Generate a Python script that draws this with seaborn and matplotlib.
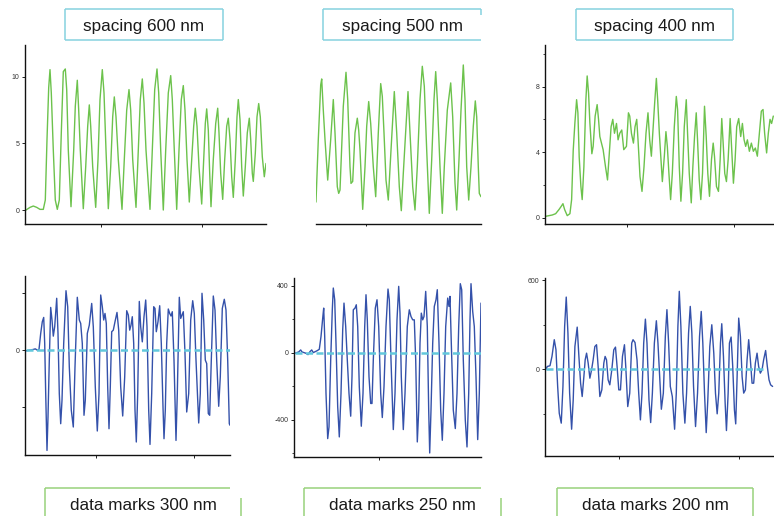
import matplotlib
matplotlib.use("Agg")
import matplotlib.pyplot as plt
import seaborn as sns
import pandas as pd
from matplotlib.lines import Line2D

# ---------------- data ----------------
titles_top = ["spacing 600 nm", "spacing 500 nm", "spacing 400 nm"]
titles_bottom = ["data marks 300 nm", "data marks 250 nm", "data marks 200 nm"]

trace_600 = [(1.0,0.0),(5.0,0.2),(8.3,0.3),(11.7,0.2),(15.0,0.05),(18.3,0.05),(20.3,0.75),(22.0,5.3),(23.7,9.2),(25.0,10.55),
 (26.3,8.8),(28.3,4.5),(30.3,0.75),(32.3,0.05),(34.3,0.75),(36.3,5.8),(38.3,10.4),(40.3,10.6),(41.7,9.05),(43.3,4.5),
 (46.0,0.25),(48.7,4.5),(50.3,7.8),(52.3,9.75),(53.7,7.5),(55.3,4.5),(58.3,0.1),(60.7,3.25),(62.7,6.3),(64.3,7.9),
 (65.7,6.3),(67.7,3.25),(70.7,0.2),(73.0,3.8),(75.0,8.3),(77.3,10.55),(79.0,8.8),(81.0,4.5),(83.3,0.1),(85.7,3.25),
 (87.7,7.0),(89.3,8.5),(91.0,7.0),(93.3,3.8),(97.0,0.05),(99.3,3.8),(101.7,7.5),(104.0,9.05),(105.7,7.5),(107.7,3.8),
 (111.0,0.2),(113.3,4.5),(115.3,8.3),(117.3,9.85),(119.0,8.05),(121.0,4.5),(125.0,0.05),(127.3,4.5),(129.7,9.05),(132.0,10.6),
 (133.7,8.8),(135.7,4.5),(138.3,0.0),(140.7,4.5),(143.3,8.8),(145.7,10.1),(147.3,8.3),(149.3,4.5),(151.7,0.05),(154.0,4.5),
 (156.3,8.3),(158.3,9.35),(160.0,7.5),(162.0,3.8),(164.3,0.6),(166.7,3.8),(168.7,6.3),(170.3,7.65),(172.0,6.3),(174.0,3.25),
 (176.7,0.45),(178.7,3.8),(180.3,6.5),(181.7,7.6),(183.3,6.0),(184.7,2.75),(186.0,0.25),(188.3,3.8),(190.7,6.5),(192.7,7.65),
 (194.0,5.8),(195.7,2.75),(197.7,0.8),(199.7,3.8),(201.7,6.3),(203.3,6.9),(205.0,5.3),(206.7,2.5),(208.3,0.95),(210.3,3.8),
 (212.0,7.0),(213.3,8.3),(215.0,6.8),(216.7,3.25),(218.3,1.05),(220.3,3.25),(222.3,5.8),(224.3,6.9),(225.7,5.3),(227.3,2.75),
 (228.3,2.15),(230.3,4.25),(232.0,7.0),(233.7,8.0),(235.3,7.0),(237.3,4.0),(239.3,2.5),(241.0,3.5)]

trace_500 = [(0,0.6),(2.3,5.3),(4.7,9.4),(5.7,9.85),(7.3,7.5),(9.0,5.3),(11.7,2.25),(14.7,5.3),(17.3,8.3),(19.0,5.8),
 (21.3,1.75),(22.7,1.25),(24.0,1.5),(27.3,7.8),(30.0,10.35),(31.7,8.3),(34.0,3.25),(35.0,2.0),(36.7,2.15),(39.0,5.8),
 (41.3,6.9),(42.7,6.0),(44.0,4.5),(46.7,0.05),(49.0,3.25),(50.7,6.3),(52.7,8.15),(54.7,6.5),(57.3,3.25),(59.7,1.0),
 (62.3,5.8),(64.7,9.5),(66.3,8.55),(68.0,5.8),(70.0,2.25),(72.3,0.75),(75.0,4.5),(78.3,8.9),(80.7,5.8),(83.3,1.75),
 (85.3,-0.05),(87.3,2.75),(90.0,6.3),(92.0,8.9),(94.0,5.8),(96.7,1.75),(99.0,0.0),(101.3,3.25),(104.0,8.3),(106.3,10.8),
 (108.3,9.3),(110.7,4.5),(113.3,-0.25),(115.7,3.8),(118.0,8.3),(119.7,10.4),(121.3,8.3),(124.0,3.25),(126.3,-0.25),(128.3,3.25),
 (131.3,7.5),(134.7,9.55),(136.7,7.0),(139.0,2.0),(140.7,0.0),(143.0,3.8),(145.0,7.5),(147.3,10.9),(149.0,8.3),(150.7,3.25),
 (152.7,0.75),(155.0,3.25),(157.3,6.3),(159.3,8.2),(160.7,7.0),(162.3,3.25),(163.3,1.25),(165.0,1.0)]

trace_400 = [(0.7,0.08),(4.0,0.12),(7.3,0.16),(10.7,0.24),(14.0,0.49),(16.3,0.69),(18.0,0.85),(19.7,0.49),(22.3,0.12),(25.0,0.24),
 (26.7,1.1),(28.3,4.1),(30.0,5.8),(31.7,7.2),(33.0,6.4),(34.3,3.7),(36.0,1.9),(37.3,1.1),(39.0,3.1),(41.0,7.2),
 (42.3,8.65),(43.7,7.6),(45.0,5.8),(47.0,3.9),(48.3,4.35),(50.3,6.2),(52.3,6.9),(53.7,6.0),(55.0,4.95),(56.7,4.55),
 (58.3,4.15),(60.7,3.1),(62.7,2.3),(64.3,3.75),(66.3,5.55),(68.0,6.0),(69.7,5.15),(71.7,5.75),(73.3,4.75),(75.0,5.15),
 (77.0,5.35),(79.0,4.15),(81.7,4.35),(83.7,6.4),(85.0,6.2),(86.7,5.15),(88.7,4.55),(90.3,5.55),(92.0,6.0),(93.3,4.75),
 (95.3,2.5),(97.3,1.6),(99.3,3.1),(101.3,5.15),(103.3,6.4),(105.0,4.75),(106.7,3.75),(108.3,5.35),(110.0,7.0),(111.7,8.5),
 (113.0,7.2),(114.7,5.15),(116.3,3.55),(117.7,2.2),(119.7,3.75),(121.3,5.25),(122.7,4.35),(124.3,2.7),(126.0,1.1),(127.7,2.7),
 (129.7,5.55),(131.7,7.4),(133.0,6.6),(134.7,3.1),(136.3,1.0),(138.0,2.7),(139.7,5.55),(141.7,7.2),(143.0,5.15),(144.7,2.7),
 (146.7,0.9),(148.3,3.1),(150.0,4.95),(151.7,6.4),(153.0,4.75),(154.7,2.3),(156.3,1.1),(158.0,2.7),(160.0,6.8),(161.7,4.95),
 (163.3,2.7),(165.0,1.3),(167.0,3.55),(168.7,4.55),(170.0,3.75),(172.0,1.9),(174.0,1.6),(175.7,3.55),(177.3,6.05),(178.7,4.55),
 (180.3,2.7),(182.0,2.2),(183.7,3.55),(185.7,6.05),(187.3,4.15),(189.0,2.1),(190.7,3.55),(192.3,5.55),(194.3,6.05),(196.3,4.95),
 (198.0,5.75),(199.7,4.75),(201.3,4.35),(203.0,4.75),(205.0,4.05),(207.0,4.55),(209.0,4.05),(211.0,4.25),(213.0,3.75),(215.0,5.15),
 (217.0,6.5),(218.7,6.6),(220.3,5.15),(222.3,3.95),(224.0,5.15),(225.7,6.0),(227.3,5.75),(229.0,6.2)]

marks_300 = [(1.0,-5),(5.0,0),(8.3,5),(10.3,9),(12.3,0),(14.0,5),(15.7,117),(17.3,199),(18.7,229),(19.7,47),
 (20.7,-304),(22.0,-702),(23.0,-468),(24.3,-70),(25.7,299),(27.0,211),(28.3,98),(29.7,164),(31.7,363),(33.0,117),
 (34.3,-304),(35.7,-515),(37.0,-351),(38.7,47),(41.0,416),(42.7,304),(44.3,-117),(46.3,-421),(48.3,-538),(50.0,-117),
 (52.3,370),(54.3,211),(55.7,187),(57.3,47),(59.0,-456),(60.3,-351),(62.3,117),(64.3,175),(66.7,327),(68.3,164),
 (70.3,-257),(72.3,-566),(74.0,-304),(75.7,386),(77.3,304),(78.7,211),(80.0,257),(81.3,187),(82.7,-257),(84.0,-550),
 (85.3,-257),(86.7,129),(88.3,140),(90.0,199),(92.0,264),(93.7,140),(95.7,-257),(97.7,-461),(99.7,-187),(101.7,276),
 (103.3,246),(104.7,140),(106.0,175),(107.3,234),(108.7,47),(110.0,-421),(111.3,-643),(112.7,-304),(114.3,341),(115.7,164),
 (117.3,58),(119.0,234),(120.7,351),(122.0,164),(123.7,-421),(125.0,-660),(126.7,-304),(128.7,304),(130.0,292),(131.3,129),
 (133.0,199),(134.7,311),(136.3,47),(138.0,-398),(139.0,-620),(140.3,-421),(141.7,47),(143.3,288),(144.7,257),(146.0,239),
 (147.3,269),(149.0,-70),(151.0,-632),(152.3,-304),(154.3,370),(155.7,222),(157.0,246),(158.3,269),(160.0,-23),(161.7,-433),
 (163.7,-304),(165.7,211),(167.7,346),(169.3,257),(171.0,-70),(173.7,-510),(175.3,-304),(177.0,398),(178.7,211),(180.3,-70),
 (181.7,-94),(183.3,-444),(184.7,-456),(186.3,-70),(188.3,379),(190.0,281),(191.7,-70),(193.7,-393),(195.3,-187),(197.3,292),
 (199.3,356),(201.0,281),(202.7,-70),(204.3,-515),(205.0,-526)]

marks_250 = [(0.7,-4),(2.7,0),(4.7,4),(6.7,16),(8.0,4),(10.0,0),(12.0,-4),(14.0,-12),(16.0,6),(17.7,16),
 (19.3,0),(21.3,6),(23.3,12),(25.3,20),(27.0,96),(28.7,206),(29.7,266),(30.7,96),(32.0,-244),(33.7,-514),
 (35.0,-444),(36.7,-44),(38.3,256),(39.3,386),(40.7,316),(42.0,56),(43.7,-324),(45.3,-504),(47.0,-244),(48.7,136),
 (50.0,296),(51.7,156),(53.3,-44),(55.0,-244),(56.7,-380),(58.0,-144),(59.3,256),(61.0,266),(62.3,286),(63.7,156),
 (65.3,-204),(67.3,-440),(69.0,-244),(70.7,156),(72.0,346),(73.3,196),(75.0,-144),(76.7,-304),(78.0,-304),(79.3,-44),
 (81.3,266),(83.0,316),(84.7,156),(86.7,-244),(88.3,-388),(90.0,-204),(92.0,156),(94.0,380),(95.3,316),(97.0,-44),
 (99.3,-460),(101.0,-244),(103.0,196),(104.7,396),(106.0,236),(107.3,-144),(109.3,-460),(111.0,-244),(113.3,156),(115.3,256),
 (117.0,216),(118.7,196),(120.3,196),(121.7,-44),(123.3,-534),(124.7,-344),(126.0,56),(127.3,236),(128.7,196),(130.0,216),
 (131.7,366),(133.3,156),(134.7,-344),(135.7,-600),(137.0,-344),(138.7,56),(140.3,276),(142.0,316),(143.3,376),(145.0,56),
 (146.7,-344),(148.3,-524),(150.0,-244),(151.7,156),(153.7,326),(155.0,276),(156.0,336),(157.3,56),(159.3,-344),(161.3,-454),
 (163.0,-244),(164.7,156),(166.3,412),(167.7,376),(169.3,-44),(171.3,-404),(173.0,-564),(174.7,-244),(176.0,196),(177.0,412),
 (178.7,246),(180.3,156),(182.0,-144),(183.7,-520),(185.3,-244),(187.0,296)]

marks_200 = [(0.7,-5),(2.3,18),(5.0,23),(7.0,86),(9.3,199),(11.0,131),(12.7,-117),(14.3,-298),(16.3,-365),(18.0,-117),
 (19.7,289),(21.3,487),(23.0,244),(24.7,-162),(26.7,-406),(28.3,-208),(30.0,153),(32.3,284),(34.0,86),(35.7,-95),
 (37.3,-185),(39.0,-50),(40.3,63),(41.7,108),(43.3,41),(45.0,-61),(46.7,-5),(48.3,63),(50.0,153),(51.7,165),
 (53.3,18),(55.0,-185),(57.0,-140),(59.0,41),(60.3,86),(61.7,63),(63.3,-72),(65.0,-106),(67.0,-5),(69.0,131),
 (70.7,149),(72.3,18),(74.0,-140),(75.7,-140),(77.7,86),(79.7,165),(81.0,18),(83.0,-253),(85.0,-162),(87.0,176),
 (88.3,199),(90.3,180),(92.3,63),(94.0,-162),(95.7,-343),(97.3,-162),(99.0,176),(100.7,338),(102.3,176),(104.3,-208),
 (106.0,-361),(107.7,-162),(109.7,176),(111.7,327),(113.3,176),(115.0,-50),(116.7,-271),(118.7,-162),(120.7,221),(122.3,402),
 (124.0,176),(125.7,-117),(127.7,-185),(130.0,-406),(131.7,-162),(133.3,289),(134.7,526),(136.3,289),(138.3,-162),(140.3,-365),
 (142.0,-162),(144.0,244),(145.7,424),(147.3,244),(149.0,-117),(151.0,-388),(153.0,-162),(155.0,221),(156.7,390),(158.3,176),
 (160.0,-162),(161.7,-429),(163.3,-208),(165.3,153),(167.3,300),(169.3,108),(171.0,-162),(172.7,-302),(174.3,-162),(176.0,176),
 (177.3,307),(179.0,86),(180.7,-230),(182.0,-415),(183.7,-162),(185.0,176),(186.7,217),(188.3,18),(190.0,-275),(191.3,-370),
 (192.7,-50),(194.3,345),(196.0,221),(197.7,-50),(199.3,-162),(201.0,-140),(202.7,63),(204.3,199),(206.0,63),(207.7,-95),
 (209.3,-95),(211.0,41),(212.7,108),(214.3,18),(216.0,-27),(217.7,-5),(219.3,63),(221.3,126),(223.0,18),(224.7,-72),
 (226.3,-106),(228.3,-117)]

zero_line_end = [205.0, 187.0, 221.7]

# ---------------- style ----------------
sns.set_theme(style="ticks")
plt.rcParams['font.family'] = ['Liberation Sans', 'DejaVu Sans']
GREEN = "#6cc24c"
BLUE = "#3451aa"
CYAN = "#62c8dc"
BOX_CYAN = "#86d2df"
BOX_GREEN = "#98d27c"

W, H = 774, 516
fig = plt.figure(figsize=(W / 100, H / 100), dpi=100)


def px_axes(l, r, t, b):
    return fig.add_axes([l / W, 1 - b / H, (r - l) / W, (b - t) / H])


def style_axes(ax, show_left=True):
    sns.despine(ax=ax, top=True, right=True, left=not show_left)
    for s in ("left", "bottom"):
        ax.spines[s].set_linewidth(1.0)
        ax.spines[s].set_color("#111111")
    ax.tick_params(axis="both", which="major", direction="out", length=2.5, width=0.7,
                   colors="#222222", labelsize=5, pad=1.5, labelcolor="#333333")
    ax.tick_params(axis="both", which="minor", direction="out", length=1.8, width=0.6, colors="#222222")
    ax.tick_params(axis="x", labelbottom=False)
    ax.set_xlabel("")
    ax.set_ylabel("")
    ax.set_facecolor("none")


def draw(ax, pts, color, lw):
    df = pd.DataFrame(pts, columns=["x", "y"])
    sns.lineplot(data=df, x="x", y="y", ax=ax, color=color, lw=lw,
                 estimator=None, sort=False, legend=False)
    ax.lines[-1].set_solid_joinstyle("round")


DASH = (0, (2.8, 1.4))

# Top row
ax1 = px_axes(25, 266, 45, 224)
draw(ax1, trace_600, GREEN, 1.0)
ax1.set_xlim(0, 241); ax1.set_ylim(-1.05, 12.4)
style_axes(ax1)
ax1.set_yticks([0, 5, 10]); ax1.set_yticklabels(["0", "5", "10"])
ax1.set_xticks([76, 177.3])

ax2 = px_axes(316, 481, 45, 224)
draw(ax2, trace_500, GREEN, 1.0)
ax2.set_xlim(0, 165); ax2.set_ylim(-1.05, 12.4)
style_axes(ax2, show_left=False)
ax2.set_yticks([])
ax2.set_xticks([50])
ax2.tick_params(axis="x", length=1.5)

ax3 = px_axes(545, 774, 45, 224)
draw(ax3, trace_400, GREEN, 1.0)
ax3.set_xlim(0, 229.7); ax3.set_ylim(-0.39, 10.54)
style_axes(ax3)
ax3.set_yticks([0, 4, 8]); ax3.set_yticklabels(["0", "4", "8"])
ax3.set_yticks([2, 6, 10], minor=True)
ax3.set_xticks([82.7, 190])

# Bottom row
ax4 = px_axes(25, 230, 276, 455)
draw(ax4, marks_300, BLUE, 1.0)
ax4.hlines(0, marks_300[0][0], zero_line_end[0], colors=CYAN, lw=1.8, linestyles=DASH, zorder=3)
ax4.set_xlim(0, 205); ax4.set_ylim(-734, 519)
style_axes(ax4)
ax4.set_yticks([-400, 0, 400]); ax4.set_yticklabels(["", "0", ""])
ax4.set_xticks([71.3, 169.3])

ax5 = px_axes(294, 481, 278, 457)
draw(ax5, marks_250, BLUE, 1.0)
ax5.hlines(0, marks_250[0][0], zero_line_end[1], colors=CYAN, lw=1.8, linestyles=DASH, zorder=3)
ax5.set_xlim(0, 187); ax5.set_ylim(-624, 446)
style_axes(ax5)
ax5.set_yticks([-400, 0, 400]); ax5.set_yticklabels(["-400", "0", "400"])
ax5.set_yticks([-600, -200, 200], minor=True)
ax5.set_xticks([85])

ax6 = px_axes(545, 774, 278, 456)
draw(ax6, marks_200, BLUE, 1.0)
ax6.hlines(0, marks_200[0][0], zero_line_end[2], colors=CYAN, lw=1.8, linestyles=DASH, zorder=3)
ax6.set_xlim(0, 229.7); ax6.set_ylim(-587, 616)
style_axes(ax6)
ax6.set_yticks([0, 600]); ax6.set_yticklabels(["0", "600"])
ax6.set_yticks([-300, 300], minor=True)
ax6.set_xticks([74, 195])


# ---------------- title boxes ----------------
def seg(x0, y0, x1, y1, color):
    fig.add_artist(Line2D([x0 / W, x1 / W], [1 - y0 / H, 1 - y1 / H], transform=fig.transFigure,
                          color=color, lw=1.1, solid_capstyle="butt"))


# top boxes
for (l, r) in [(65, 223), (576, 733)]:
    seg(l, 9, r, 9, BOX_CYAN); seg(l, 40, r, 40, BOX_CYAN)
    seg(l, 9, l, 40, BOX_CYAN); seg(r, 9, r, 40, BOX_CYAN)
seg(323, 9, 481, 9, BOX_CYAN); seg(323, 40, 481, 40, BOX_CYAN)
seg(323, 9, 323, 40, BOX_CYAN); seg(481, 9, 481, 15, BOX_CYAN)

# bottom boxes
seg(45, 488, 230, 488, BOX_GREEN); seg(45, 488, 45, 516, BOX_GREEN); seg(241, 498, 241, 516, BOX_GREEN)
seg(304, 488, 481, 488, BOX_GREEN); seg(304, 488, 304, 516, BOX_GREEN); seg(501, 498, 501, 516, BOX_GREEN)
seg(557, 488, 753, 488, BOX_GREEN); seg(557, 488, 557, 516, BOX_GREEN); seg(753, 488, 753, 516, BOX_GREEN)

for cx, t in zip([143.5, 402.5, 655], titles_top):
    fig.text(cx / W, 1 - 31 / H, t, ha="center", va="baseline", fontsize=12.3, color="#1a1a1a")
for cx, t in zip([143.5, 402, 655], titles_bottom):
    fig.text(cx / W, 1 - 510 / H, t, ha="center", va="baseline", fontsize=12.3, color="#1a1a1a")

fig.savefig("out.png", dpi=100)
